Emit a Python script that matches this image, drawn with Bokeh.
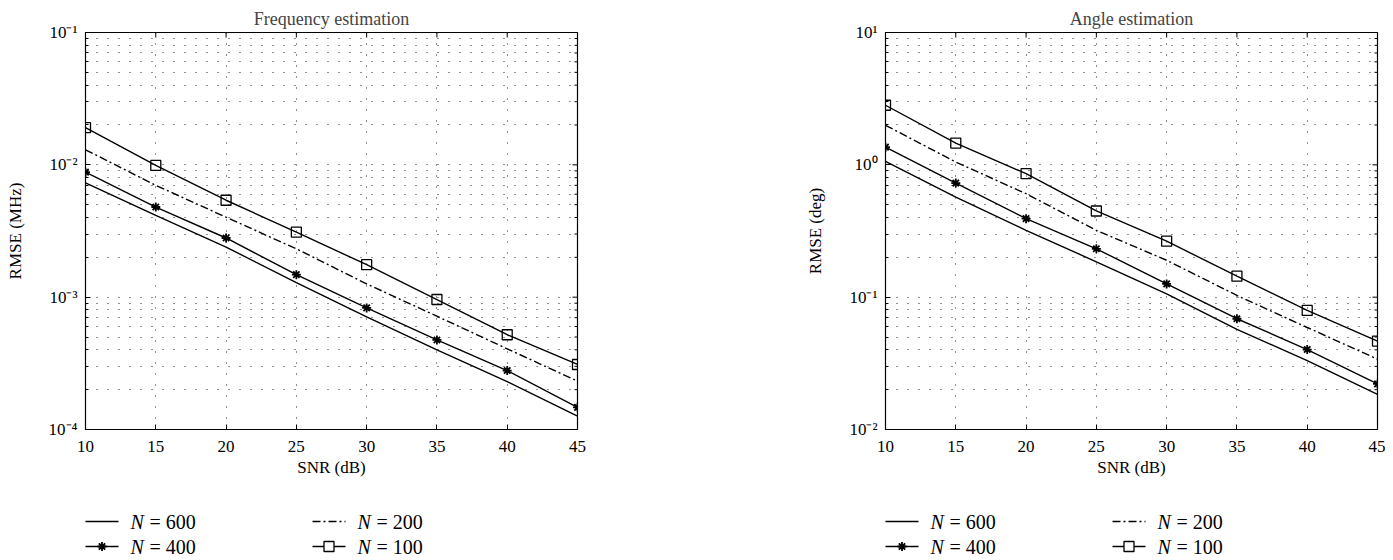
import math
from bokeh.plotting import figure
from bokeh.layouts import row, column
from bokeh.models import FixedTicker, Range1d, CustomJSTickFormatter
from bokeh.core.properties import value
from bokeh.embed import file_html
from bokeh.resources import INLINE

# ---------------- data ----------------
snr = [10, 15, 20, 25, 30, 35, 40, 45]
x_ticks = [10, 15, 20, 25, 30, 35, 40, 45]

freq_n600 = [0.0073, 0.00415, 0.00239, 0.00129, 0.00071, 0.00040, 0.00023, 0.000126]
freq_n400 = [0.0088, 0.0048, 0.0028, 0.00148, 0.00083, 0.000475, 0.000279, 0.000147]
freq_n200 = [0.0130, 0.0070, 0.00402, 0.00232, 0.00126, 0.000718, 0.000407, 0.000232]
freq_n100 = [0.0191, 0.0099, 0.0054, 0.0031, 0.00176, 0.00096, 0.00052, 0.00031]

angle_n600 = [1.06, 0.57, 0.32, 0.185, 0.106, 0.057, 0.0332, 0.0184]
angle_n400 = [1.36, 0.728, 0.392, 0.232, 0.126, 0.0687, 0.0402, 0.0221]
angle_n200 = [1.99, 1.05, 0.605, 0.32, 0.19, 0.103, 0.059, 0.034]
angle_n100 = [2.82, 1.46, 0.857, 0.448, 0.265, 0.144, 0.0794, 0.0465]

freq_decades = [1e-4, 1e-3, 1e-2, 1e-1]
angle_decades = [1e-2, 1e-1, 1e0, 1e1]

legend_values = ["600", "400", "200", "100"]

FONT = "Liberation Serif"
FRAME_W, FRAME_H = 492, 397
BORDER_L, BORDER_T, BORDER_B = 85, 32, 58
BORDER_R1, BORDER_R2 = 223, 8
LEG_H = 70

sup_fmt = CustomJSTickFormatter(code="""
const e = Math.round(Math.log10(tick));
const m = {'-':'\u207b','0':'\u2070','1':'\u00b9','2':'\u00b2','3':'\u00b3',
           '4':'\u2074','5':'\u2075','6':'\u2076','7':'\u2077','8':'\u2078','9':'\u2079'};
return '10' + String(e).split('').map(c => m[c]).join('');
""")


def minor_list(decades):
    out = []
    for d in decades[:-1]:
        for k in range(2, 10):
            out.append(d * k)
    return out


def make_plot(title, ylabel, decades, series, border_r):
    p = figure(title=title, y_axis_type="log", output_backend="svg",
               toolbar_location=None, frame_width=FRAME_W, frame_height=FRAME_H,
               min_border_left=BORDER_L, min_border_right=border_r,
               min_border_top=BORDER_T, min_border_bottom=BORDER_B,
               x_range=Range1d(snr[0], snr[-1]),
               y_range=Range1d(decades[0], decades[-1]))
    p.title.align = "center"
    p.title.text_font = FONT
    p.title.text_font_style = "normal"
    p.title.text_font_size = "18px"
    p.title.standoff = 8
    p.outline_line_color = "black"
    p.outline_line_width = 1.2

    minors = minor_list(decades)
    yt = FixedTicker(ticks=decades, minor_ticks=minors)
    xt = FixedTicker(ticks=x_ticks, minor_ticks=[])

    p.xaxis.ticker = xt
    p.yaxis.ticker = yt
    p.yaxis.formatter = sup_fmt
    for ax in (p.xaxis[0], p.yaxis[0]):
        ax.major_tick_in = 5
        ax.major_tick_out = 0
        ax.minor_tick_in = 3
        ax.minor_tick_out = 0
        ax.axis_line_color = "black"
        ax.major_label_text_font = FONT
        ax.major_label_text_font_size = "17px"
        ax.major_label_text_color = "black"
        ax.axis_label_text_font = FONT
        ax.axis_label_text_font_style = "normal"
        ax.axis_label_text_font_size = "17px"
        ax.axis_label_text_color = "black"
    p.xaxis.minor_tick_line_color = None
    p.xaxis.axis_label = "SNR (dB)"
    p.xaxis.major_label_standoff = 11
    p.xaxis.axis_label_standoff = 3
    p.yaxis.axis_label = ylabel
    p.yaxis.major_label_standoff = 8
    p.yaxis.axis_label_standoff = 21

    # inward ticks on the top and right edges of the box (clipped to the frame)
    p.scatter(x_ticks, [decades[-1]] * len(x_ticks), marker="dash", angle=math.pi / 2,
              size=10, line_color="black", line_width=1)
    p.scatter([snr[-1]] * len(decades), decades, marker="dash",
              size=10, line_color="black", line_width=1)
    p.scatter([snr[-1]] * len(minors), minors, marker="dash",
              size=6, line_color="black", line_width=1)

    for g in (p.xgrid[0], p.ygrid[0]):
        g.grid_line_color = "#222222"
        g.grid_line_dash = "1 10"
        g.grid_line_width = 1
    p.ygrid.minor_grid_line_color = "#222222"
    p.ygrid.minor_grid_line_dash = "1 10"
    p.ygrid.minor_grid_line_width = 1

    s600, s400, s200, s100 = series
    lw = 1.4
    p.line(snr, s600, line_color="black", line_width=lw)
    p.line(snr, s400, line_color="black", line_width=lw)
    p.scatter(snr, s400, marker="asterisk", size=9, line_color="black", line_width=1.8)
    p.line(snr, s200, line_color="black", line_width=lw, line_dash="8 3 2 3")
    p.line(snr, s100, line_color="black", line_width=lw)
    p.scatter(snr, s100, marker="square", size=10, line_color="black",
              fill_color=None, line_width=1.3)
    return p


def make_legend(width):
    H = LEG_H
    q = figure(width=width, height=H, output_backend="svg", toolbar_location=None,
               x_range=Range1d(0, width), y_range=Range1d(H, 0),
               min_border_left=0, min_border_right=0, min_border_top=0,
               min_border_bottom=0)
    q.axis.visible = False
    q.xgrid.visible = False
    q.ygrid.visible = False
    q.outline_line_color = None
    cols = [BORDER_L, BORDER_L + 227]
    rows = [34, 59]
    slots = [(0, 0), (0, 1), (1, 0), (1, 1)]  # (col,row) for 600,400,200,100
    styles = ["solid", "star", "dashdot", "square"]
    for (ci, ri), val, st in zip(slots, legend_values, styles):
        x0 = cols[ci]
        y0 = rows[ri]
        dash = "8 3 2 3" if st == "dashdot" else "solid"
        q.line([x0, x0 + 33], [y0, y0], line_color="black", line_width=1.3, line_dash=dash)
        if st == "star":
            q.scatter([x0 + 16.5], [y0], marker="asterisk", size=9,
                      line_color="black", line_width=1.8)
        if st == "square":
            q.scatter([x0 + 16.5], [y0], marker="square", size=10,
                      line_color="black", fill_color="white", line_width=1.3)
        q.text([x0 + 45], [y0], text=["N"], text_font=value(FONT),
               text_font_style="italic", text_font_size="20px",
               text_baseline="middle", text_align="left", text_color="black")
        q.text([x0 + 64], [y0], text=["=  " + val], text_font=value(FONT),
               text_font_size="20px", text_baseline="middle", text_align="left",
               text_color="black")
    return q


p1 = make_plot("Frequency estimation", "RMSE (MHz)", freq_decades,
               (freq_n600, freq_n400, freq_n200, freq_n100), border_r=BORDER_R1)
p2 = make_plot("Angle estimation", "RMSE (deg)", angle_decades,
               (angle_n600, angle_n400, angle_n200, angle_n100), border_r=BORDER_R2)
W1 = BORDER_L + FRAME_W + BORDER_R1
W2 = BORDER_L + FRAME_W + BORDER_R2
l1 = make_legend(W1)
l2 = make_legend(W2)

layout = column(row(p1, p2, spacing=0), row(l1, l2, spacing=0), spacing=0)
open("out.html", "w").write(file_html(layout, INLINE))
